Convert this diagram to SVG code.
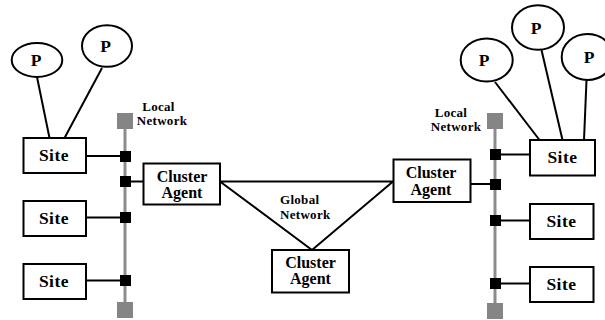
<svg xmlns="http://www.w3.org/2000/svg" width="605" height="320" viewBox="0 0 605 320">
  <style>
    .box { fill: #fff; stroke: #000; stroke-width: 2; }
    .proc { fill: #fff; stroke: #000; stroke-width: 2; }
    .lbl { font-family: "Liberation Serif", "Times New Roman", serif; font-weight: bold; font-size: 17.5px; text-anchor: middle; fill: #000; }
    .site { letter-spacing: 0.5px; }
    .agent { font-size: 16px; }
    .net { font-family: "Liberation Serif", "Times New Roman", serif; font-weight: bold; font-size: 13px; fill: #000; letter-spacing: 0.3px; }
    .wire { stroke: #000; stroke-width: 2; fill: none; }
    .bus { stroke: #8c8c8c; stroke-width: 3; fill: none; }
    .end { fill: #858585; }
    .tap { fill: #000; }
  </style>

  <!-- connectors: process links, site taps, local buses, global network -->
  <g id="connectors">
    <!-- left local network bus -->
    <line class="bus" x1="125" y1="121" x2="125" y2="310"/>
    <rect class="end" x="117" y="113" width="16" height="16"/>
    <rect class="end" x="117" y="302" width="16" height="16"/>
    <!-- right local network bus -->
    <line class="bus" x1="495" y1="121" x2="495" y2="310"/>
    <rect class="end" x="487" y="113" width="16" height="16"/>
    <rect class="end" x="487" y="303" width="16" height="16"/>

    <!-- left taps -->
    <line class="wire" x1="86" y1="156" x2="125" y2="156"/>
    <line class="wire" x1="125" y1="181.5" x2="143" y2="181.5"/>
    <line class="wire" x1="86" y1="217.5" x2="125" y2="217.5"/>
    <line class="wire" x1="86" y1="280.5" x2="125" y2="280.5"/>
    <rect class="tap" x="120" y="151" width="11" height="11"/>
    <rect class="tap" x="120" y="176" width="11" height="11"/>
    <rect class="tap" x="120" y="212" width="11" height="11"/>
    <rect class="tap" x="120" y="275" width="11" height="11"/>

    <!-- right taps -->
    <line class="wire" x1="495" y1="154.5" x2="530" y2="154.5"/>
    <line class="wire" x1="471" y1="184" x2="495" y2="184"/>
    <line class="wire" x1="495" y1="220.5" x2="530" y2="220.5"/>
    <line class="wire" x1="495" y1="283.5" x2="530" y2="283.5"/>
    <rect class="tap" x="490" y="149" width="11" height="11"/>
    <rect class="tap" x="490" y="179" width="11" height="11"/>
    <rect class="tap" x="490" y="215" width="11" height="11"/>
    <rect class="tap" x="490" y="278" width="11" height="11"/>

    <!-- process links -->
    <line class="wire" x1="37" y1="77" x2="49.5" y2="138"/>
    <line class="wire" x1="102" y1="68" x2="64.5" y2="138"/>
    <line class="wire" x1="495" y1="82" x2="539.5" y2="140"/>
    <line class="wire" x1="541.5" y1="50" x2="562.5" y2="140"/>
    <line class="wire" x1="586.5" y1="80" x2="584" y2="140"/>

    <!-- global network -->
    <polygon class="wire" points="220,181.5 393,181.5 312,250"/>
  </g>

  <text class="net" x="280" y="204">Global</text>
  <text class="net" x="280" y="218.5">Network</text>

  <text class="net" x="158.5" y="111" text-anchor="middle">Local</text>
  <text class="net" x="162" y="125.3" text-anchor="middle">Network</text>
  <text class="net" x="451" y="116.7" text-anchor="middle">Local</text>
  <text class="net" x="456" y="131" text-anchor="middle">Network</text>

  <!-- processes -->
  <g id="p1"><ellipse class="proc" cx="37" cy="60" rx="25.3" ry="17"/><text class="lbl" x="36" y="66">P</text></g>
  <g id="p2"><ellipse class="proc" cx="107" cy="46" rx="25" ry="20.8"/><text class="lbl" x="105.5" y="52">P</text></g>
  <g id="p3"><ellipse class="proc" cx="486.7" cy="60" rx="26" ry="21.5"/><text class="lbl" x="484" y="66">P</text></g>
  <g id="p4"><ellipse class="proc" cx="538" cy="27.5" rx="26" ry="22.3"/><text class="lbl" x="536" y="34">P</text></g>
  <g id="p5"><ellipse class="proc" cx="587.5" cy="57" rx="25.8" ry="23"/><text class="lbl" x="589" y="63">P</text></g>

  <!-- left cluster -->
  <g id="site-l1"><rect class="box" x="23.5" y="138" width="62.5" height="35"/><text class="lbl site" x="54" y="161">Site</text></g>
  <g id="site-l2"><rect class="box" x="23.5" y="201" width="62.5" height="35"/><text class="lbl site" x="54" y="224">Site</text></g>
  <g id="site-l3"><rect class="box" x="23.5" y="264" width="62.5" height="35"/><text class="lbl site" x="54" y="287">Site</text></g>
  <g id="agent-l"><rect class="box" x="143.5" y="163.5" width="76.5" height="41"/><text class="lbl agent" x="182" y="182">Cluster</text><text class="lbl agent" x="182" y="198.3">Agent</text></g>

  <!-- right cluster -->
  <g id="site-r1"><rect class="box" x="530" y="140" width="65" height="35.5"/><text class="lbl site" x="562.5" y="163">Site</text></g>
  <g id="site-r2"><rect class="box" x="530" y="204" width="63.5" height="35"/><text class="lbl site" x="561.5" y="227">Site</text></g>
  <g id="site-r3"><rect class="box" x="530" y="267" width="63.5" height="35"/><text class="lbl site" x="561.5" y="290">Site</text></g>
  <g id="agent-r"><rect class="box" x="393.5" y="159.5" width="77" height="42.5"/><text class="lbl agent" x="431" y="178.3">Cluster</text><text class="lbl agent" x="431" y="194.6">Agent</text></g>

  <!-- global cluster agent -->
  <g id="agent-g"><rect class="box" x="272" y="250" width="77" height="42.5"/><text class="lbl agent" x="310.5" y="267.7">Cluster</text><text class="lbl agent" x="310.5" y="284.3">Agent</text></g>
</svg>
